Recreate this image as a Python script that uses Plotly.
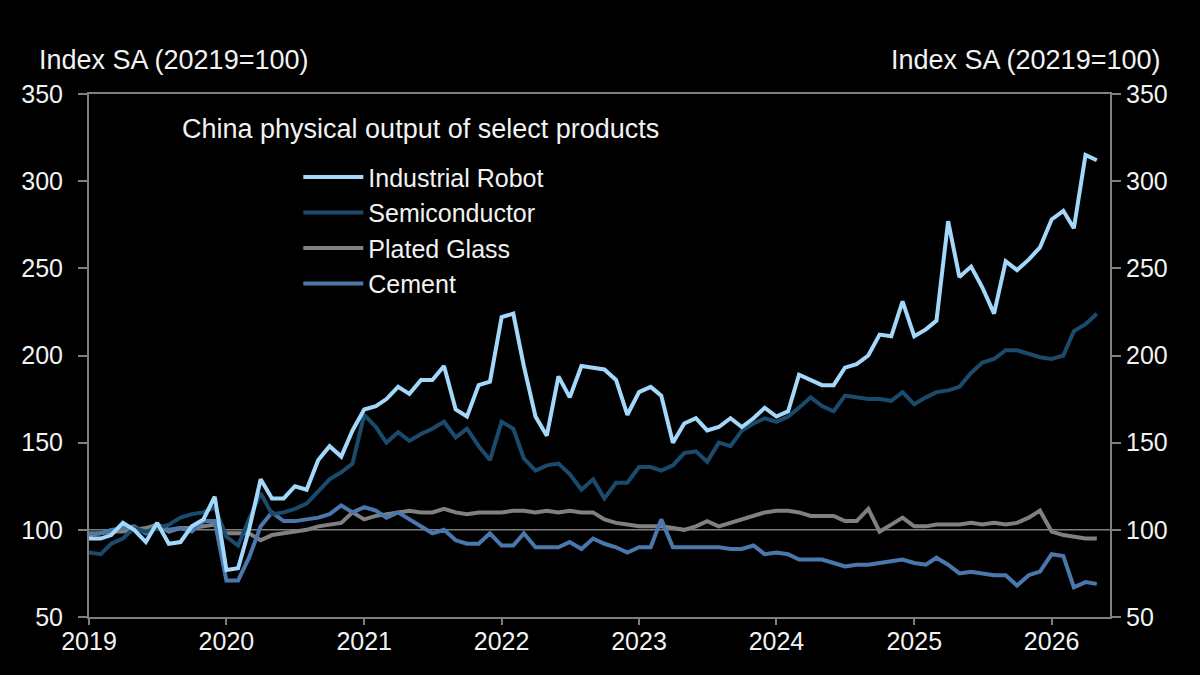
import pandas as pd
import plotly.graph_objects as go

dates = pd.date_range("2019-01-01", periods=89, freq="MS")

industrial_robot = [95, 95, 97, 104, 100, 93, 104, 92, 93, 102, 106, 119,
                    77, 78, 100, 129, 118, 118, 125, 123, 140, 148, 142, 157,
                    169, 171, 175, 182, 178, 186, 186, 194, 169, 165, 183, 185,
                    222, 224, 194, 165, 154, 188, 176, 194, 193, 192, 186, 166,
                    179, 182, 177, 150, 161, 164, 157, 159, 164, 159, 164, 170,
                    165, 168, 189, 186, 183, 183, 193, 195, 200, 212, 211, 231,
                    211, 215, 220, 277, 245, 251, 239, 224, 254, 249, 255, 262,
                    278, 283, 273, 315, 312]
semiconductor = [87, 86, 92, 95, 101, 99, 101, 103, 107, 109, 110, 113,
                 96, 91, 106, 121, 109, 110, 112, 115, 122, 129, 133, 138,
                 166, 159, 150, 156, 151, 155, 158, 162, 153, 158, 148, 140,
                 162, 158, 141, 134, 137, 138, 132, 123, 129, 118, 127, 127,
                 136, 136, 134, 137, 144, 145, 139, 150, 148, 157, 161, 164,
                 162, 165, 170, 176, 171, 168, 177, 176, 175, 175, 174, 179,
                 172, 176, 179, 180, 182, 190, 196, 198, 203, 203, 201, 199,
                 198, 200, 214, 218, 224]
plated_glass = [97, 98, 99, 99, 100, 101, 103, 99, 101, 101, 102, 103,
                98, 98, 98, 94, 97, 98, 99, 100, 102, 103, 104, 110,
                106, 108, 109, 110, 111, 110, 110, 112, 110, 109, 110, 110,
                110, 111, 111, 110, 111, 110, 111, 110, 110, 106, 104, 103,
                102, 102, 102, 101, 100, 102, 105, 102, 104, 106, 108, 110,
                111, 111, 110, 108, 108, 108, 105, 105, 112, 99, 103, 107,
                102, 102, 103, 103, 103, 104, 103, 104, 103, 104, 107, 111,
                99, 97, 96, 95, 95]
cement = [98, 98, 100, 101, 102, 98, 103, 100, 101, 99, 105, 105,
          71, 71, 84, 102, 110, 105, 105, 106, 107, 109, 114, 110,
          113, 111, 107, 110, 106, 102, 98, 100, 94, 92, 92, 98,
          91, 91, 98, 90, 90, 90, 93, 89, 95, 92, 90, 87,
          90, 90, 106, 90, 90, 90, 90, 90, 89, 89, 91, 86,
          87, 86, 83, 83, 83, 81, 79, 80, 80, 81, 82, 83,
          81, 80, 84, 80, 75, 76, 75, 74, 74, 68, 74, 76,
          86, 85, 67, 70, 69]

series_names = ["Industrial Robot", "Semiconductor", "Plated Glass", "Cement"]
year_ticks = ["2019-01-01", "2020-01-01", "2021-01-01", "2022-01-01",
              "2023-01-01", "2024-01-01", "2025-01-01", "2026-01-01"]
year_labels = ["2019", "2020", "2021", "2022", "2023", "2024", "2025", "2026"]
y_ticks = [50, 100, 150, 200, 250, 300, 350]
baseline = 100

FONT = "Liberation Sans, Arial, sans-serif"
TXT = "#f2f2f2"
AX = "#7f7f7f"
TICK_SIZE = 25
TEXT_SIZE = 27
LEGEND_SIZE = 25

colors = {
    "Industrial Robot": "#a3d8fb",
    "Semiconductor": "#1a4a6c",
    "Plated Glass": "#808080",
    "Cement": "#4a78ad",
}
values = {
    "Industrial Robot": industrial_robot,
    "Semiconductor": semiconductor,
    "Plated Glass": plated_glass,
    "Cement": cement,
}

fig = go.Figure()
for name in ["Plated Glass", "Cement", "Semiconductor", "Industrial Robot"]:
    fig.add_trace(go.Scatter(
        x=dates, y=values[name], name=name, mode="lines",
        line=dict(color=colors[name], width=4),
        legendrank=series_names.index(name) + 1,
        legendgroup=name,
    ))
fig.add_trace(go.Scatter(x=dates, y=industrial_robot, yaxis="y2", mode="lines",
                         line=dict(width=0), showlegend=False, hoverinfo="skip",
                         opacity=0))

fig.add_shape(type="line", xref="paper", x0=0, x1=1, yref="y", y0=baseline, y1=baseline,
              line=dict(color=AX, width=1.5), layer="below")

yaxis_common = dict(
    range=[50, 350], tickvals=y_ticks, ticks="outside", ticklen=9, tickwidth=1.5,
    tickcolor=AX, showline=True, linecolor=AX, linewidth=2, showgrid=False,
    zeroline=False, tickfont=dict(family=FONT, size=TICK_SIZE, color=TXT),
)

fig.update_layout(
    width=1200, height=675,
    paper_bgcolor="black", plot_bgcolor="black",
    margin=dict(l=89, r=90, t=94, b=58),
    font=dict(family=FONT, color=TXT, size=TEXT_SIZE),
    xaxis=dict(
        type="date", range=["2019-01-01", "2026-06-05"],
        tickvals=year_ticks, ticktext=year_labels,
        ticks="outside", ticklen=6, tickwidth=1.5, tickcolor=AX,
        ticklabelstandoff=-5,
        showline=True, mirror=True, linecolor=AX, linewidth=2,
        showgrid=False, zeroline=False,
        tickfont=dict(family=FONT, size=TICK_SIZE, color=TXT),
    ),
    yaxis=dict(**yaxis_common, side="left", ticklabelstandoff=10),
    yaxis2=dict(**yaxis_common, side="right", overlaying="y"),
    showlegend=True,
    legend=dict(
        x=0.205, y=0.885, xanchor="left", yanchor="top",
        bgcolor="rgba(0,0,0,0)", font=dict(family=FONT, size=LEGEND_SIZE, color=TXT),
        itemwidth=60, tracegroupgap=0, traceorder="normal",
    ),
    annotations=[
        dict(text="Index SA (20219=100)", xref="paper", yref="paper",
             x=-0.051, y=1.065, xanchor="left", yanchor="middle", showarrow=False,
             font=dict(family=FONT, size=TEXT_SIZE, color=TXT)),
        dict(text="Index SA (20219=100)", xref="paper", yref="paper",
             x=1.051, y=1.065, xanchor="right", yanchor="middle", showarrow=False,
             font=dict(family=FONT, size=TEXT_SIZE, color=TXT)),
        dict(text="China physical output of select products", xref="paper", yref="paper",
             x=0.089, y=0.934, xanchor="left", yanchor="middle", showarrow=False,
             font=dict(family=FONT, size=TEXT_SIZE, color=TXT)),
    ],
)

fig.write_html(
    "out.html",
    config={"displayModeBar": False},
    post_script="document.body.style.margin='0';document.body.style.background='black';",
)
